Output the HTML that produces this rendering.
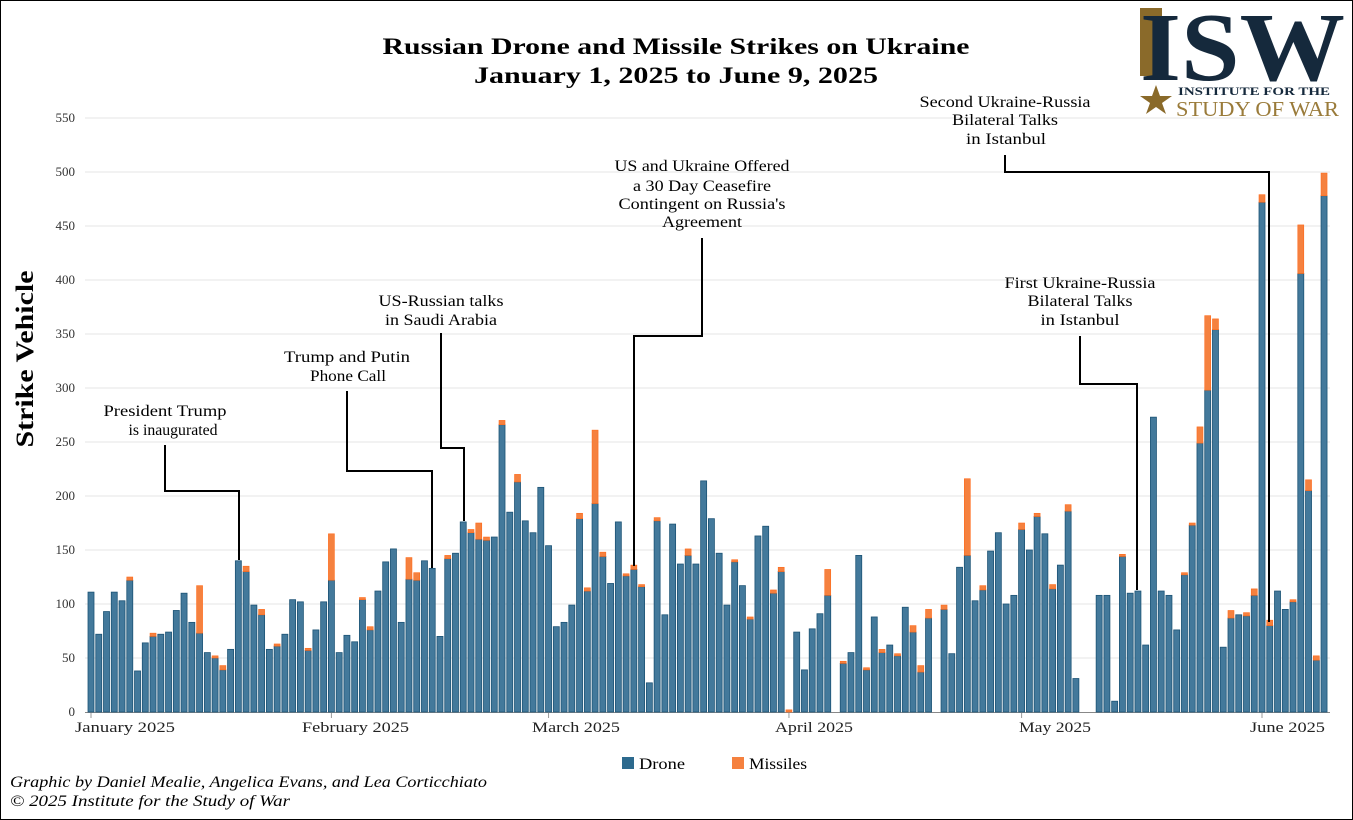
<!DOCTYPE html>
<html><head><meta charset="utf-8"><style>
html,body{margin:0;padding:0;background:#fff}
#w{position:relative;width:1351px;height:818px;border:1px solid #000;overflow:hidden;font-family:"Liberation Serif",serif}
svg text{font-family:"Liberation Serif",serif}
</style></head><body><div id="w">
<svg id="s" width="1351" height="818" viewBox="1 1 1351 818" xmlns="http://www.w3.org/2000/svg">
<g id="grid"></g>
<g id="bars"></g>
<text x="676" y="54" text-anchor="middle" font-size="23" font-weight="bold" textLength="587" lengthAdjust="spacingAndGlyphs">Russian Drone and Missile Strikes on Ukraine</text>
<text x="676" y="83" text-anchor="middle" font-size="23" font-weight="bold" textLength="404" lengthAdjust="spacingAndGlyphs">January 1, 2025 to June 9, 2025</text>
<text transform="translate(33,359) rotate(-90)" text-anchor="middle" font-size="25" font-weight="bold" textLength="177" lengthAdjust="spacingAndGlyphs">Strike Vehicle</text>
<g font-size="15" fill="#222">
<text x="75" y="732" textLength="100" lengthAdjust="spacingAndGlyphs">January 2025</text>
<text x="302" y="732" textLength="107" lengthAdjust="spacingAndGlyphs">February 2025</text>
<text x="532" y="732" textLength="88" lengthAdjust="spacingAndGlyphs">March 2025</text>
<text x="775" y="732" textLength="78" lengthAdjust="spacingAndGlyphs">April 2025</text>
<text x="1019" y="732" textLength="72" lengthAdjust="spacingAndGlyphs">May 2025</text>
<text x="1250" y="732" textLength="75" lengthAdjust="spacingAndGlyphs">June 2025</text>
</g>
<g fill="none" stroke="#000" stroke-width="2">
<polyline points="165,445 165,491 239,491 239,560"/>
<polyline points="347,391 347,471 432,471 432,568"/>
<polyline points="441,333 441,448 464,448 464,521"/>
<polyline points="702,238 702,336 634,336 634,566"/>
<polyline points="1080,336 1080,384 1137,384 1137,590"/>
<polyline points="1005,155 1005,172 1269,172 1269,622"/>
</g>
<g font-size="16" text-anchor="middle" lengthAdjust="spacingAndGlyphs">
<text x="165" y="416" textLength="123" lengthAdjust="spacingAndGlyphs">President Trump</text><text x="173" y="435" textLength="89" lengthAdjust="spacingAndGlyphs">is inaugurated</text>
<text x="347" y="362" textLength="126" lengthAdjust="spacingAndGlyphs">Trump and Putin</text><text x="348" y="381" textLength="76" lengthAdjust="spacingAndGlyphs">Phone Call</text>
<text x="441" y="306" textLength="125" lengthAdjust="spacingAndGlyphs">US-Russian talks</text><text x="441" y="325" textLength="112" lengthAdjust="spacingAndGlyphs">in Saudi Arabia</text>
<text x="702" y="171" textLength="175" lengthAdjust="spacingAndGlyphs">US and Ukraine Offered</text><text x="702" y="191" textLength="138" lengthAdjust="spacingAndGlyphs">a 30 Day Ceasefire</text><text x="702" y="209" textLength="167" lengthAdjust="spacingAndGlyphs">Contingent on Russia's</text><text x="702" y="227" textLength="80" lengthAdjust="spacingAndGlyphs">Agreement</text>
<text x="1080" y="288" textLength="151" lengthAdjust="spacingAndGlyphs">First Ukraine-Russia</text><text x="1080" y="306" textLength="105" lengthAdjust="spacingAndGlyphs">Bilateral Talks</text><text x="1080" y="325" textLength="79" lengthAdjust="spacingAndGlyphs">in Istanbul</text>
<text x="1005" y="107" textLength="171" lengthAdjust="spacingAndGlyphs">Second Ukraine-Russia</text><text x="1005" y="125" textLength="106" lengthAdjust="spacingAndGlyphs">Bilateral Talks</text><text x="1006" y="144" textLength="80" lengthAdjust="spacingAndGlyphs">in Istanbul</text>
</g>
<rect x="622" y="757" width="12" height="12" fill="#2d6a8e"/>
<text x="639" y="769" font-size="16" textLength="46" lengthAdjust="spacingAndGlyphs">Drone</text>
<rect x="732" y="757" width="12" height="12" fill="#f5813f"/>
<text x="749" y="769" font-size="16" textLength="58" lengthAdjust="spacingAndGlyphs">Missiles</text>
<g font-size="16" font-style="italic">
<text x="10" y="787" textLength="477" lengthAdjust="spacingAndGlyphs">Graphic by Daniel Mealie, Angelica Evans, and Lea Corticchiato</text>
<text x="10" y="806" textLength="280" lengthAdjust="spacingAndGlyphs">© 2025 Institute for the Study of War</text>
</g>
<!-- logo -->
<rect x="1140" y="8" width="22" height="68" fill="#8a6a2a"/>
<text x="1140" y="80" font-size="98" font-weight="bold" fill="#15293c" textLength="205" lengthAdjust="spacingAndGlyphs">ISW</text>
<text x="1178" y="95" font-size="12" font-weight="bold" fill="#15293c" textLength="152" lengthAdjust="spacingAndGlyphs">INSTITUTE FOR THE</text>
<text x="1176" y="116" font-size="21" fill="#9a7b3a" textLength="163" lengthAdjust="spacingAndGlyphs">STUDY OF WAR</text>
<polygon points="1156,85 1160,96 1172,96 1162,103 1166,114 1156,107 1146,114 1150,103 1140,96 1152,96" fill="#8a6a2a"/>
</svg></div>
<script>
var d=[[111,0],[72,0],[93,0],[111,0],[103,0],[122,3],[38,0],[64,0],[70,3],[72,0],[74,0],[94,0],[110,0],[83,0],[73,44],[55,0],[50,2],[39,4],[58,0],[140,0],[130,5],[99,0],[90,5],[58,0],[61,2],[72,0],[104,0],[102,0],[57,2],[76,0],[102,0],
[122,43],[55,0],[71,0],[65,0],[104,2],[76,3],[112,0],[139,0],[151,0],[83,0],[123,20],[122,7],[140,0],[133,0],[70,0],[142,3],[147,0],[176,0],[166,3],[160,15],[159,3],[162,0],[266,4],[185,0],[213,7],[177,0],[166,0],[208,0],
[154,0],[79,0],[83,0],[99,0],[179,5],[112,3],[193,68],[144,4],[119,0],[176,0],[126,2],[132,4],[116,2],[27,0],[177,3],[90,0],[174,0],[137,0],[145,6],[137,0],[214,0],[179,0],[147,0],[99,0],[139,2],[117,0],[86,2],[163,0],[172,0],[110,3],[130,4],
[0,2],[74,0],[39,0],[77,0],[91,0],[108,24],[0,0],[45,2],[55,0],[145,0],[39,2],[88,0],[55,3],[62,0],[52,2],[97,0],[74,6],[37,6],[87,8],[0,0],[95,4],[54,0],[134,0],[145,71],[103,0],[113,4],[149,0],[166,0],[100,0],[108,0],
[169,6],[150,0],[181,3],[165,0],[114,4],[136,0],[186,6],[31,0],[0,0],[0,0],[108,0],[108,0],[10,0],[144,2],[110,0],[112,0],[62,0],[273,0],[112,0],[108,0],[76,0],[127,2],[173,2],[249,15],[298,69],[354,10],[60,0],[87,7],[90,0],[89,3],[108,6],
[472,7],[80,5],[112,0],[95,0],[102,2],[406,45],[205,10],[48,4],[478,21]];
var ns="http://www.w3.org/2000/svg",g=document.getElementById('grid'),b=document.getElementById('bars');
function el(p,t,a){var e=document.createElementNS(ns,t);for(var k in a)e.setAttribute(k,a[k]);p.appendChild(e);return e;}
var Y0=712,k=1.08;
for(var v=0;v<=550;v+=50){var y=Y0-v*k;if(v>0)el(g,'line',{x1:85,x2:1330,y1:y,y2:y,stroke:'#e6e6e6','stroke-width':1});
var t=el(g,'text',{x:75,y:y+4,'text-anchor':'end','font-size':13,fill:'#333'});t.textContent=v;}
el(g,'line',{x1:85,x2:1330,y1:712.5,y2:712.5,stroke:'#888','stroke-width':1});
[0,31,59,90,120,151].forEach(function(i){var x=91+i*7.755;el(g,'line',{x1:x,x2:x,y1:713,y2:718,stroke:'#999'});});
d.forEach(function(p,i){var cx=91+i*7.755,x=cx-3;
if(p[0]>0)el(b,'rect',{x:x,y:Y0-p[0]*k,width:6,height:p[0]*k,fill:'#43799b',stroke:'#1c5375','stroke-width':0.8});
if(p[1]>0)el(b,'rect',{x:x,y:Y0-(p[0]+p[1])*k,width:6,height:p[1]*k,fill:'#f5813f',stroke:'#ff6a1a','stroke-width':0.6});});
</script>
</body></html>
